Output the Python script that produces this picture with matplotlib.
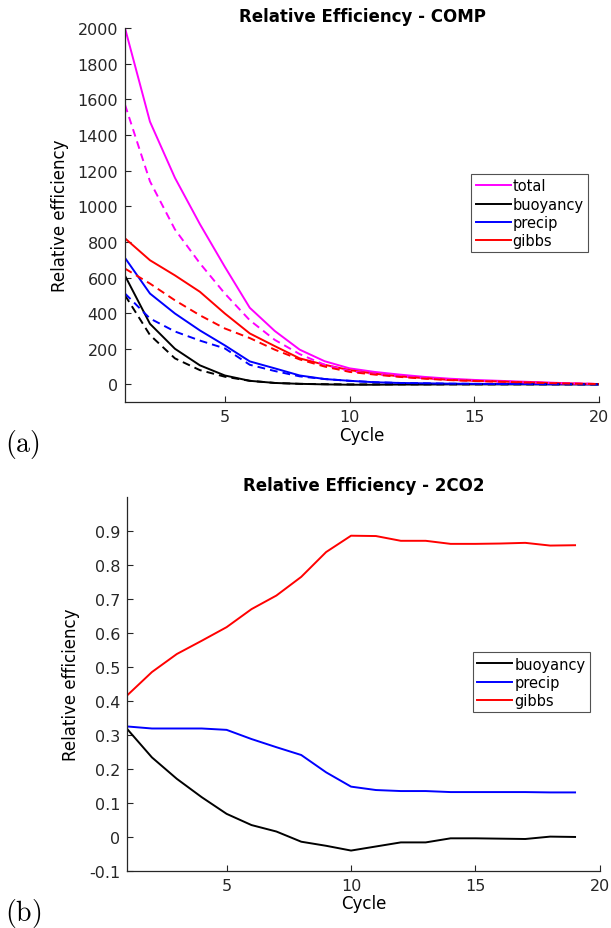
import matplotlib
matplotlib.use("Agg")
import matplotlib.pyplot as plt
from matplotlib.ticker import FormatStrFormatter

plt.rcParams["font.family"] = ["DejaVu Sans"]
plt.rcParams["mathtext.fontset"] = "cm"

# ---- data: panel (a) COMP ----
cycles_a = list(range(1, 21))
total_solid = [2000, 1475, 1160, 900, 660, 430, 300, 195, 130, 90, 70, 55, 42, 32, 25, 20, 15, 10, 5, 2]
total_dash = [1570, 1140, 870, 680, 510, 360, 250, 170, 110, 75, 58, 45, 35, 27, 21, 16, 12, 8, 5, 2]
buoy_solid = [610, 340, 200, 107, 50, 20, 8, 3, 0, -2, -2, -1, -1, 0, 0, 0, 0, 0, 0, 0]
buoy_dash = [500, 277, 146, 80, 43, 20, 8, 3, 1, 0, 0, 0, 0, 0, 0, 0, 0, 0, 0, 0]
precip_solid = [710, 510, 398, 303, 219, 129, 90, 50, 30, 20, 12, 8, 6, 4, 3, 2, 2, 1, 1, 0]
precip_dash = [510, 370, 297, 246, 202, 110, 75, 45, 30, 20, 12, 8, 6, 4, 3, 2, 2, 1, 1, 0]
gibbs_solid = [820, 697, 612, 520, 398, 286, 215, 146, 110, 80, 60, 45, 35, 25, 20, 16, 12, 8, 4, 2]
gibbs_dash = [650, 566, 472, 388, 314, 260, 195, 140, 100, 70, 55, 42, 32, 24, 19, 15, 11, 7, 4, 2]

# ---- data: panel (b) 2CO2 ----
cycles_b = list(range(1, 20))
buoy_b = [0.318, 0.234, 0.171, 0.117, 0.068, 0.035, 0.016, -0.014, -0.026, -0.040,
          -0.028, -0.016, -0.016, -0.004, -0.004, -0.005, -0.006, 0.001, 0.000]
precip_b = [0.325, 0.319, 0.319, 0.319, 0.315, 0.288, 0.264, 0.241, 0.190, 0.148,
            0.138, 0.135, 0.135, 0.132, 0.132, 0.132, 0.132, 0.131, 0.131]
gibbs_b = [0.416, 0.485, 0.538, 0.577, 0.617, 0.670, 0.710, 0.765, 0.838, 0.886,
           0.885, 0.871, 0.871, 0.862, 0.862, 0.863, 0.865, 0.857, 0.858]

DASH = (0, (4, 2.6))
LW = 1.4
AXC = "#262626"


def style_axes(ax):
    for side in ("top", "right"):
        ax.spines[side].set_visible(False)
    for side in ("left", "bottom"):
        ax.spines[side].set_color(AXC)
        ax.spines[side].set_linewidth(0.9)
    ax.tick_params(direction="in", length=4, width=0.8, colors=AXC, labelsize=11.5, pad=5)


def add_legend(ax, anchor):
    leg = ax.legend(loc="upper right", bbox_to_anchor=anchor, fontsize=10.5,
                    handlelength=2.4, handletextpad=0.15, borderpad=0.3,
                    labelspacing=0.22, borderaxespad=0, fancybox=False)
    leg.get_frame().set_edgecolor(AXC)
    leg.get_frame().set_linewidth(0.8)
    return leg


fig = plt.figure(figsize=(6.11, 9.29), dpi=100)

# panel (a)
ax1 = fig.add_axes([0.2046, 0.566, 0.776, 0.4026])
ax1.plot(cycles_a, total_solid, color="#ff00ff", lw=LW, label="total")
ax1.plot(cycles_a, buoy_solid, color="black", lw=LW, label="buoyancy")
ax1.plot(cycles_a, precip_solid, color="#0000ff", lw=LW, label="precip")
ax1.plot(cycles_a, gibbs_solid, color="#ff0000", lw=LW, label="gibbs")
ax1.plot(cycles_a, total_dash, color="#ff00ff", lw=LW, linestyle=DASH)
ax1.plot(cycles_a, buoy_dash, color="black", lw=LW, linestyle=DASH)
ax1.plot(cycles_a, precip_dash, color="#0000ff", lw=LW, linestyle=DASH)
ax1.plot(cycles_a, gibbs_dash, color="#ff0000", lw=LW, linestyle=DASH)
ax1.set_xlim(1, 20)
ax1.set_ylim(-100, 2000)
ax1.set_xticks([5, 10, 15, 20])
ax1.set_yticks(range(0, 2001, 200))
style_axes(ax1)
ax1.set_title("Relative Efficiency - COMP", fontweight="bold", fontsize=12, pad=5)
ax1.set_xlabel("Cycle", fontsize=12, labelpad=1)
ax1.set_ylabel("Relative efficiency", fontsize=12, labelpad=6)
add_legend(ax1, (0.977, 0.61))
fig.text(0.008, 0.522, r"$\mathrm{(a)}$", fontsize=20, va="center", ha="left")

# panel (b)
ax2 = fig.add_axes([0.2079, 0.0614, 0.774, 0.4026])
ax2.plot(cycles_b, buoy_b, color="black", lw=LW, label="buoyancy")
ax2.plot(cycles_b, precip_b, color="#0000ff", lw=LW, label="precip")
ax2.plot(cycles_b, gibbs_b, color="#ff0000", lw=LW, label="gibbs")
ax2.set_xlim(1, 20)
ax2.set_ylim(-0.1, 1.0)
ax2.set_xticks([5, 10, 15, 20])
ax2.set_yticks([-0.1, 0, 0.1, 0.2, 0.3, 0.4, 0.5, 0.6, 0.7, 0.8, 0.9])
ax2.yaxis.set_major_formatter(FormatStrFormatter("%g"))
style_axes(ax2)
ax2.set_title("Relative Efficiency - 2CO2", fontweight="bold", fontsize=12, pad=5)
ax2.set_xlabel("Cycle", fontsize=12, labelpad=1)
ax2.set_ylabel("Relative efficiency", fontsize=12, labelpad=6)
add_legend(ax2, (0.979, 0.585))
fig.text(0.008, 0.017, r"$\mathrm{(b)}$", fontsize=20, va="center", ha="left")

fig.savefig("out.png", dpi=100)
